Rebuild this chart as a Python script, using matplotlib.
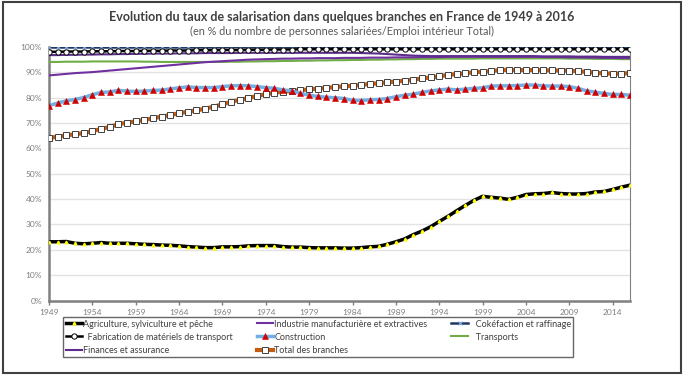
import matplotlib
matplotlib.use("Agg")
import matplotlib.pyplot as plt
from matplotlib.patches import Rectangle
from matplotlib.ticker import FuncFormatter

plt.rcParams["font.family"] = ["Lato", "DejaVu Sans"]

years = list(range(1949, 2017))

agriculture = [
    23.2, 23.2, 23.3, 22.6, 22.4, 22.6, 22.9, 22.6, 22.6, 22.6,
    22.4, 22.2, 22.1, 21.9, 21.8, 21.6, 21.3, 21.1, 20.9, 20.9,
    21.2, 21.2, 21.3, 21.6, 21.7, 21.7, 21.7, 21.3, 21.1, 21.1,
    20.9, 20.8, 20.8, 20.8, 20.7, 20.7, 20.9, 21.2, 21.4, 22.2,
    23.2, 24.3, 26.0, 27.4, 29.1, 31.2, 33.2, 35.4, 37.5, 39.5,
    41.1, 40.7, 40.4, 39.9, 40.7, 41.8, 42.1, 42.2, 42.6, 42.2,
    42.0, 42.0, 42.2, 42.8, 43.0, 43.8, 44.7, 45.5,
]
industrie = [
    88.7, 89.0, 89.3, 89.6, 89.8, 90.0, 90.3, 90.6, 90.9, 91.2,
    91.5, 91.8, 92.1, 92.4, 92.7, 93.0, 93.3, 93.6, 93.9, 94.1,
    94.3, 94.5, 94.7, 94.9, 95.0, 95.1, 95.2, 95.3, 95.3, 95.4,
    95.4, 95.5, 95.5, 95.5, 95.6, 95.6, 95.6, 95.7, 95.7, 95.7,
    95.8, 95.8, 95.8, 95.9, 95.9, 95.9, 96.0, 96.0, 96.0, 96.0,
    96.0, 96.0, 96.0, 96.0, 96.0, 96.0, 96.0, 95.9, 95.9, 95.9,
    95.8, 95.8, 95.7, 95.7, 95.6, 95.6, 95.5, 95.5,
]
cokefaction = [
    99.7, 99.7, 99.7, 99.7, 99.7, 99.7, 99.7, 99.7, 99.7, 99.7,
    99.7, 99.7, 99.7, 99.7, 99.7, 99.7, 99.7, 99.7, 99.7, 99.7,
    99.8, 99.8, 99.8, 99.8, 99.8, 99.8, 99.8, 99.8, 99.8, 99.8,
    99.8, 99.8, 99.8, 99.8, 99.8, 99.8, 99.8, 99.8, 99.8, 99.8,
    99.8, 99.8, 99.8, 99.8, 99.8, 99.8, 99.8, 99.8, 99.8, 99.8,
    99.8, 99.8, 99.8, 99.8, 99.8, 99.8, 99.8, 99.8, 99.8, 99.8,
    99.8, 99.8, 99.8, 99.8, 99.8, 99.8, 99.8, 99.8,
]
fabrication = [
    98.0, 98.0, 98.1, 98.1, 98.1, 98.2, 98.2, 98.2, 98.3, 98.3,
    98.3, 98.4, 98.4, 98.4, 98.5, 98.5, 98.5, 98.6, 98.6, 98.6,
    98.7, 98.7, 98.7, 98.8, 98.8, 98.8, 98.9, 98.9, 98.9, 99.0,
    99.0, 99.0, 99.0, 99.0, 99.0, 99.0, 99.0, 99.0, 99.0, 99.0,
    99.0, 99.0, 99.0, 99.0, 99.0, 99.0, 99.0, 99.0, 99.0, 99.0,
    99.0, 99.0, 99.0, 99.0, 99.0, 99.0, 99.0, 99.0, 99.0, 99.0,
    99.0, 99.0, 99.0, 99.0, 99.0, 99.0, 99.0, 99.0,
]
construction = [
    76.8, 77.8, 78.7, 79.2, 80.0, 81.1, 82.0, 82.2, 82.8, 82.5,
    82.4, 82.5, 82.8, 82.9, 83.4, 83.8, 84.2, 83.9, 83.9, 83.9,
    84.3, 84.6, 84.7, 84.6, 84.3, 83.9, 83.6, 83.0, 82.6, 81.6,
    80.9, 80.4, 80.1, 79.9, 79.6, 78.9, 78.8, 79.1, 79.2, 79.6,
    80.3, 80.9, 81.3, 82.0, 82.6, 83.0, 83.3, 83.0, 83.3, 83.6,
    83.8, 84.5, 84.6, 84.6, 84.7, 84.9, 84.9, 84.6, 84.5, 84.5,
    84.3, 83.6, 82.6, 82.1, 81.6, 81.2, 81.2, 80.9,
]
transports = [
    94.0, 94.0, 94.1, 94.1, 94.1, 94.2, 94.2, 94.2, 94.2, 94.2,
    94.2, 94.1, 94.1, 94.0, 94.0, 94.0, 94.0, 94.0, 94.0, 94.0,
    94.0, 94.1, 94.1, 94.2, 94.2, 94.3, 94.3, 94.4, 94.4, 94.5,
    94.5, 94.6, 94.6, 94.7, 94.7, 94.8, 94.8, 94.9, 94.9, 95.0,
    95.0, 95.1, 95.1, 95.2, 95.2, 95.3, 95.3, 95.3, 95.3, 95.3,
    95.4, 95.4, 95.4, 95.4, 95.4, 95.4, 95.4, 95.4, 95.4, 95.4,
    95.3, 95.3, 95.3, 95.2, 95.2, 95.2, 95.1, 95.1,
]
finances = [
    96.7, 96.7, 96.8, 96.8, 96.9, 96.9, 97.0, 97.0, 97.1, 97.1,
    97.2, 97.2, 97.3, 97.3, 97.3, 97.4, 97.4, 97.4, 97.5, 97.5,
    97.5, 97.5, 97.6, 97.6, 97.6, 97.6, 97.6, 97.6, 97.6, 97.6,
    97.6, 97.6, 97.6, 97.6, 97.6, 97.6, 97.5, 97.4, 97.3, 97.1,
    96.9, 96.7, 96.5, 96.4, 96.3, 96.3, 96.3, 96.3, 96.3, 96.3,
    96.3, 96.3, 96.3, 96.3, 96.3, 96.3, 96.3, 96.2, 96.2, 96.2,
    96.2, 96.1, 96.1, 96.1, 96.0, 96.0, 96.0, 96.0,
]
total = [
    64.0, 64.6, 65.1, 65.5, 66.0, 66.8, 67.6, 68.4, 69.5, 70.1,
    70.6, 71.2, 71.8, 72.5, 73.1, 73.8, 74.4, 74.9, 75.6, 76.4,
    77.3, 78.3, 79.1, 79.8, 80.6, 81.3, 81.9, 82.3, 82.6, 82.9,
    83.2, 83.5, 83.8, 84.1, 84.4, 84.6, 85.0, 85.3, 85.6, 86.0,
    86.3, 86.6, 87.0, 87.5, 87.9, 88.3, 88.9, 89.2, 89.5, 90.0,
    90.1, 90.4, 90.8, 90.9, 90.8, 90.8, 90.8, 90.7, 90.7, 90.6,
    90.6, 90.3, 90.1, 89.7, 89.5, 89.4, 89.4, 89.6,
]

fig = plt.figure(figsize=(6.84, 3.77), dpi=100)
ax = fig.add_axes([0.0716, 0.2024, 0.8495, 0.6737])

# lignes plates en haut d'abord
ax.plot(years, transports, color="#70AD47", lw=1.5, zorder=3)
ax.plot(years, industrie, color="#7030A0", lw=1.5, zorder=3)
ax.plot(years, finances, color="#5E2D8C", lw=1.5, zorder=3)
ax.plot(years, cokefaction, color="#1F3864", lw=1.8, marker="x", ms=2.5,
        mec="#8DB4E2", mew=0.8, zorder=3)
ax.plot(years, fabrication, color="black", lw=1.8, marker="o", ms=3.8,
        mfc="white", mec="black", mew=0.7, zorder=4)
ax.plot(years, total, color="#C55A11", lw=3, marker="s", ms=4.8,
        mfc="white", mec="#404040", mew=0.7, zorder=4)
ax.plot(years, construction, color="#6FB1E6", lw=2.5, marker="^", ms=4,
        mfc="#D00000", mec="#D00000", mew=0.4, zorder=4)
ax.plot(years, agriculture, color="black", lw=2.5, marker="^", ms=2,
        mfc="#FFFF00", mec="#FFFF00", zorder=5)

ax.set_xlim(1949, 2016)
ax.set_ylim(0, 100)
ax.set_xticks(range(1949, 2016, 5))
ax.set_yticks(range(0, 101, 10))
ax.yaxis.set_major_formatter(FuncFormatter(lambda v, p: f"{int(v)}%"))
ax.tick_params(axis="x", labelsize=6, colors="#7F7F7F", length=3, width=1, pad=3)
ax.tick_params(axis="y", labelsize=6, colors="#7F7F7F", length=0, pad=5)
ax.grid(axis="y", color="#E3E3E3", lw=1)
ax.set_axisbelow(True)
for side in ["left", "bottom"]:
    ax.spines[side].set_color("#808080")
    ax.spines[side].set_linewidth(1.8)
ax.spines["top"].set_visible(False)
ax.spines["right"].set_color("#808080")
ax.spines["right"].set_linewidth(0.8)

fig.text(0.5, 0.955, "Evolution du taux de salarisation dans quelques branches en France de 1949 à 2016",
         ha="center", va="center", fontsize=9, fontweight="bold", color="#404040")
fig.text(0.5, 0.917, "(en % du nombre de personnes salariées/Emploi intérieur Total)",
         ha="center", va="center", fontsize=7.8, color="#595959")

# legende : ordre colonne par colonne
h = ax.get_lines()
handles = [h[7], h[4], h[2], h[1], h[6], h[5], h[3], h[0]]
labels = [
    "Agriculture, sylviculture et pêche",
    "  Fabrication de matériels de transport",
    "Finances et assurance",
    "Industrie manufacturière et extractives",
    "Construction",
    "Total des branches",
    "   Cokéfaction et raffinage",
    "   Transports",
]
leg = fig.legend(handles, labels, ncol=3, loc="lower left",
                 bbox_to_anchor=(0.086, 0.04, 0.759, 0.103), mode="expand",
                 fontsize=6.5, frameon=True, fancybox=False, handlelength=1.8,
                 handletextpad=0.1, borderpad=0.3, labelspacing=0.45,
                 columnspacing=1.0)
leg.get_frame().set_edgecolor("#404040")
leg.get_frame().set_linewidth(1)
for t in leg.get_texts():
    t.set_color("#404040")

fig.add_artist(Rectangle((0.004, 0.01), 0.992, 0.985, transform=fig.transFigure,
                         fill=False, edgecolor="#404040", lw=1.5))

fig.savefig("out.png", dpi=100)
